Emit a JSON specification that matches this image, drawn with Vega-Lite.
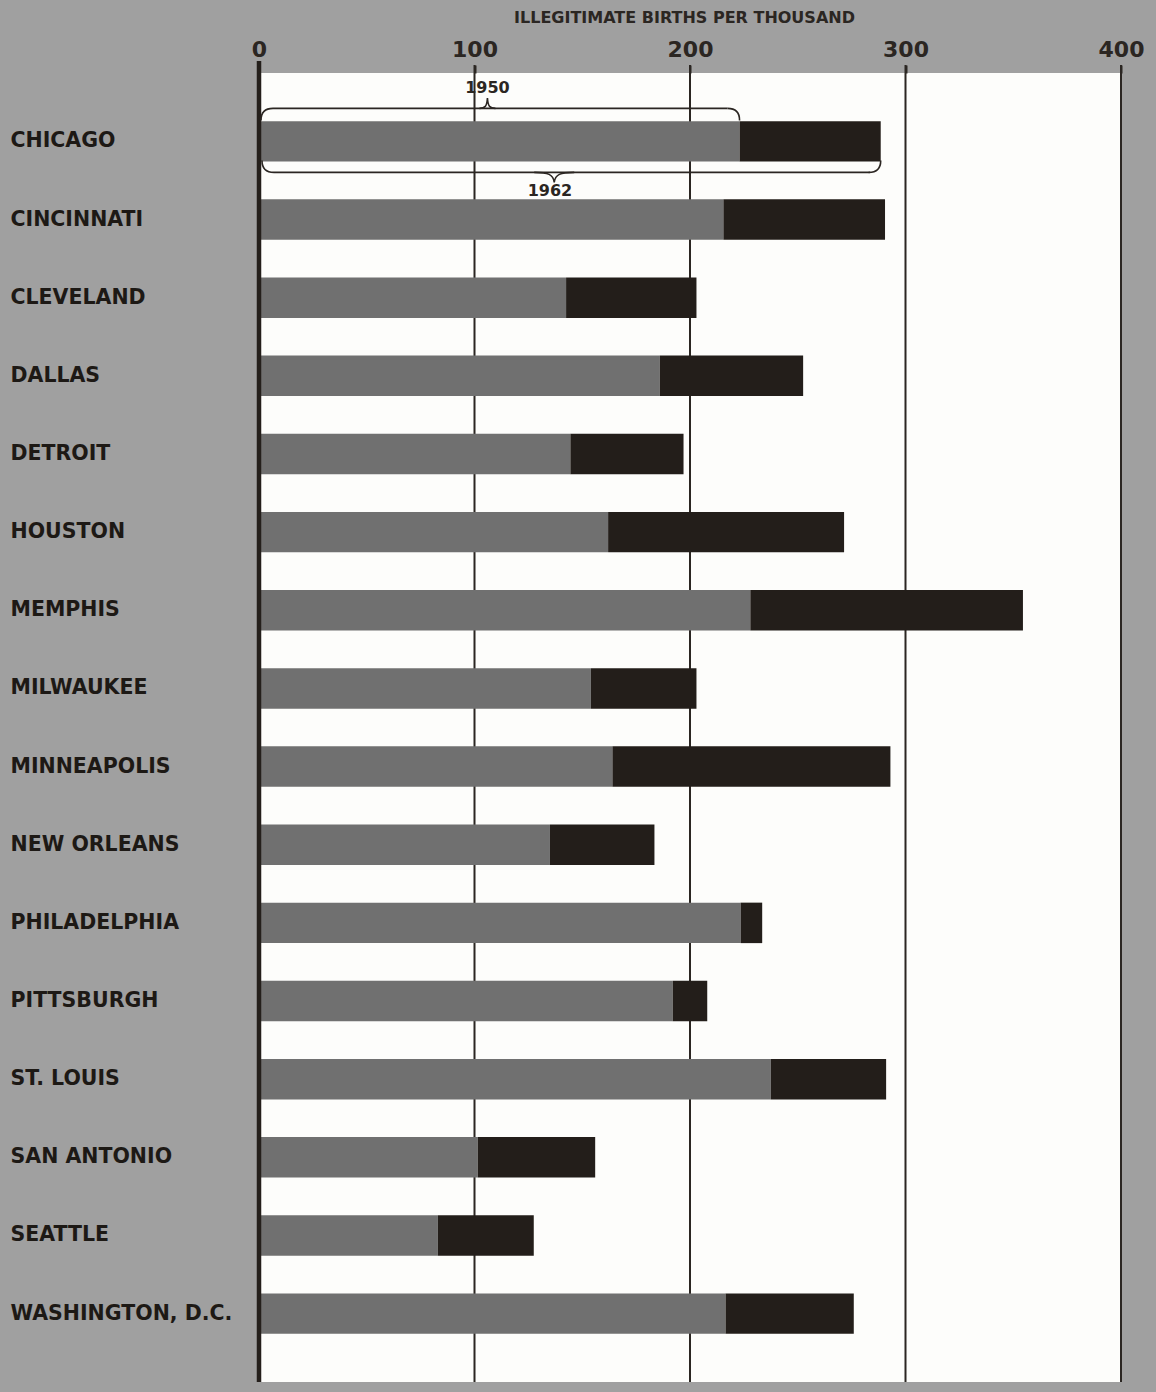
{
  "$schema": "https://vega.github.io/schema/vega-lite/v6.json",
  "autosize": {"type": "none"},
  "padding": {"left": 259, "top": 73, "right": 35, "bottom": 10},
  "width": 862,
  "height": 1309,
  "background": "#a0a0a0",
  "config": {
    "view": {"fill": "#fdfdfb", "stroke": null},
    "font": "DejaVu Sans",
    "axisX": {
      "domain": false, "grid": false, "ticks": true, "tickSize": 8, "tickWidth": 2, "tickColor": "#2b2622",
      "labelFont": "DejaVu Sans", "labelFontWeight": "bold", "labelFontSize": 22, "labelColor": "#2b2622",
      "labelBaseline": "alphabetic", "labelPadding": 9, "labelFlush": false, "labelOverlap": false,
      "titleFont": "DejaVu Sans", "titleFontWeight": "bold", "titleFontSize": 16, "titleColor": "#2b2622",
      "titleX": 425, "titleY": -51, "titleBaseline": "alphabetic", "titleAnchor": "middle", "titleAlign": "center"
    },
    "axisY": {
      "domain": false, "grid": false, "ticks": false, "tickSize": 0,
      "labelAlign": "left", "labelPadding": 249, "labelBaseline": "middle", "labelLimit": 0,
      "labelFont": "DejaVu Sans", "labelFontWeight": "bold", "labelFontSize": 20.5, "labelColor": "#1d1915"
    }
  },
  "datasets": {
    "cities": [
      {"city": "CHICAGO", "rate1950": 223, "rate1962": 288.5},
      {"city": "CINCINNATI", "rate1950": 215.5, "rate1962": 290.5},
      {"city": "CLEVELAND", "rate1950": 142.5, "rate1962": 203},
      {"city": "DALLAS", "rate1950": 186, "rate1962": 252.5},
      {"city": "DETROIT", "rate1950": 144.5, "rate1962": 197},
      {"city": "HOUSTON", "rate1950": 162, "rate1962": 271.5},
      {"city": "MEMPHIS", "rate1950": 228, "rate1962": 354.5},
      {"city": "MILWAUKEE", "rate1950": 154, "rate1962": 203},
      {"city": "MINNEAPOLIS", "rate1950": 164, "rate1962": 293},
      {"city": "NEW ORLEANS", "rate1950": 135, "rate1962": 183.5},
      {"city": "PHILADELPHIA", "rate1950": 223.5, "rate1962": 233.5},
      {"city": "PITTSBURGH", "rate1950": 192, "rate1962": 208},
      {"city": "ST. LOUIS", "rate1950": 237.5, "rate1962": 291},
      {"city": "SAN ANTONIO", "rate1950": 101.5, "rate1962": 156},
      {"city": "SEATTLE", "rate1950": 83, "rate1962": 127.5},
      {"city": "WASHINGTON, D.C.", "rate1950": 216.5, "rate1962": 276}
    ],
    "grid": [{"v": 100}, {"v": 200}, {"v": 300}, {"v": 400}],
    "zero": [{"v": 0}],
    "braces": [
      {"city": "CHICAGO", "year": "1950", "start": 0, "end": 223, "peak": 106, "labelx": 106},
      {"city": "CHICAGO", "year": "1962", "start": 0, "end": 288.5, "peak": 137, "labelx": 135}
    ]
  },
  "layer": [
    {
      "data": {"name": "grid"},
      "mark": {"type": "rule", "color": "#2b2622", "strokeWidth": 2, "yOffset": -8, "y2Offset": 10},
      "encoding": {
        "x": {
          "field": "v", "type": "quantitative", "title": "ILLEGITIMATE BIRTHS PER THOUSAND",
          "scale": {"domain": [0, 400], "nice": false, "zero": true},
          "axis": {"orient": "top", "values": [0, 100, 200, 300, 400], "format": "d"}
        }
      }
    },
    {
      "data": {"name": "cities"},
      "mark": {"type": "bar", "color": "#707070"},
      "encoding": {
        "x": {
          "field": "rate1950", "type": "quantitative", "title": "ILLEGITIMATE BIRTHS PER THOUSAND",
          "scale": {"domain": [0, 400], "nice": false, "zero": true},
          "axis": {"orient": "top", "values": [0, 100, 200, 300, 400], "format": "d"}
        },
        "y": {
          "field": "city", "type": "nominal", "sort": null, "title": null,
          "scale": {"domain": ["CHICAGO", "CINCINNATI", "CLEVELAND", "DALLAS", "DETROIT", "HOUSTON", "MEMPHIS", "MILWAUKEE", "MINNEAPOLIS", "NEW ORLEANS", "PHILADELPHIA", "PITTSBURGH", "ST. LOUIS", "SAN ANTONIO", "SEATTLE", "WASHINGTON, D.C."], "paddingInner": 0.482, "paddingOuter": 0.616},
          "axis": {"orient": "left"}
        }
      }
    },
    {
      "data": {"name": "cities"},
      "mark": {"type": "bar", "color": "#231e1a"},
      "encoding": {
        "x": {"field": "rate1950", "type": "quantitative", "title": "ILLEGITIMATE BIRTHS PER THOUSAND", "axis": {"orient": "top", "values": [0, 100, 200, 300, 400], "format": "d"}},
        "x2": {"field": "rate1962"},
        "y": {"field": "city", "type": "nominal", "sort": null, "title": null, "axis": {"orient": "left"}}
      }
    },
    {
      "data": {"name": "zero"},
      "mark": {"type": "rule", "color": "#241f1b", "strokeWidth": 4.5, "yOffset": -12, "y2Offset": 10},
      "encoding": {
        "x": {"field": "v", "type": "quantitative", "title": "ILLEGITIMATE BIRTHS PER THOUSAND", "axis": {"orient": "top", "values": [0, 100, 200, 300, 400], "format": "d"}}
      }
    },
    {
      "data": {"name": "braces"},
      "transform": [{"filter": "datum.year == '1950'"}],
      "mark": {"type": "rule", "color": "#2b2622", "strokeWidth": 1.6, "yOffset": -33, "xOffset": 14, "x2Offset": -12},
      "encoding": {
        "x": {"field": "start", "type": "quantitative", "title": "ILLEGITIMATE BIRTHS PER THOUSAND", "axis": {"orient": "top", "values": [0, 100, 200, 300, 400], "format": "d"}},
        "x2": {"field": "end"},
        "y": {"field": "city", "type": "nominal", "sort": null, "title": null, "axis": {"orient": "left"}}
      }
    },
    {
      "data": {"name": "braces"},
      "transform": [{"filter": "datum.year == '1962'"}],
      "mark": {"type": "rule", "color": "#2b2622", "strokeWidth": 1.6, "yOffset": 31, "xOffset": 15, "x2Offset": -11},
      "encoding": {
        "x": {"field": "start", "type": "quantitative", "title": "ILLEGITIMATE BIRTHS PER THOUSAND", "axis": {"orient": "top", "values": [0, 100, 200, 300, 400], "format": "d"}},
        "x2": {"field": "end"},
        "y": {"field": "city", "type": "nominal", "sort": null, "title": null, "axis": {"orient": "left"}}
      }
    },
    {
      "data": {"name": "braces"},
      "transform": [{"filter": "datum.year == '1950'"}],
      "mark": {"type": "point", "shape": "M -1 1 Q -1 -1 1 -1", "size": 144, "filled": false, "stroke": "#2b2622", "strokeWidth": 1.6, "opacity": 1, "xOffset": 8, "yOffset": -27},
      "encoding": {
        "x": {"field": "start", "type": "quantitative", "title": "ILLEGITIMATE BIRTHS PER THOUSAND", "axis": {"orient": "top", "values": [0, 100, 200, 300, 400], "format": "d"}},
        "y": {"field": "city", "type": "nominal", "sort": null, "title": null, "axis": {"orient": "left"}}
      }
    },
    {
      "data": {"name": "braces"},
      "transform": [{"filter": "datum.year == '1950'"}],
      "mark": {"type": "point", "shape": "M -1 -1 Q 1 -1 1 1", "size": 144, "filled": false, "stroke": "#2b2622", "strokeWidth": 1.6, "opacity": 1, "xOffset": -6, "yOffset": -27},
      "encoding": {
        "x": {"field": "end", "type": "quantitative", "title": "ILLEGITIMATE BIRTHS PER THOUSAND", "axis": {"orient": "top", "values": [0, 100, 200, 300, 400], "format": "d"}},
        "y": {"field": "city", "type": "nominal", "sort": null, "title": null, "axis": {"orient": "left"}}
      }
    },
    {
      "data": {"name": "braces"},
      "transform": [{"filter": "datum.year == '1962'"}],
      "mark": {"type": "point", "shape": "M -1 -1 Q -1 1 1 1", "size": 144, "filled": false, "stroke": "#2b2622", "strokeWidth": 1.6, "opacity": 1, "xOffset": 9, "yOffset": 25},
      "encoding": {
        "x": {"field": "start", "type": "quantitative", "title": "ILLEGITIMATE BIRTHS PER THOUSAND", "axis": {"orient": "top", "values": [0, 100, 200, 300, 400], "format": "d"}},
        "y": {"field": "city", "type": "nominal", "sort": null, "title": null, "axis": {"orient": "left"}}
      }
    },
    {
      "data": {"name": "braces"},
      "transform": [{"filter": "datum.year == '1962'"}],
      "mark": {"type": "point", "shape": "M -1 1 Q 1 1 1 -1", "size": 144, "filled": false, "stroke": "#2b2622", "strokeWidth": 1.6, "opacity": 1, "xOffset": -6, "yOffset": 25},
      "encoding": {
        "x": {"field": "end", "type": "quantitative", "title": "ILLEGITIMATE BIRTHS PER THOUSAND", "axis": {"orient": "top", "values": [0, 100, 200, 300, 400], "format": "d"}},
        "y": {"field": "city", "type": "nominal", "sort": null, "title": null, "axis": {"orient": "left"}}
      }
    },
    {
      "data": {"name": "braces"},
      "transform": [{"filter": "datum.year == '1950'"}],
      "mark": {"type": "point", "shape": "M -0.73 0 C -0.2 0 -0.05 -0.2 0 -0.95 C 0.05 -0.2 0.2 0 0.73 0", "size": 484, "filled": false, "stroke": "#2b2622", "strokeWidth": 1.6, "opacity": 1, "yOffset": -33},
      "encoding": {
        "x": {"field": "peak", "type": "quantitative", "title": "ILLEGITIMATE BIRTHS PER THOUSAND", "axis": {"orient": "top", "values": [0, 100, 200, 300, 400], "format": "d"}},
        "y": {"field": "city", "type": "nominal", "sort": null, "title": null, "axis": {"orient": "left"}}
      }
    },
    {
      "data": {"name": "braces"},
      "transform": [{"filter": "datum.year == '1962'"}],
      "mark": {"type": "point", "shape": "M -1 0 C -0.3 0 -0.05 0.1 0 0.5 C 0.05 0.1 0.3 0 1 0", "size": 1600, "filled": false, "stroke": "#2b2622", "strokeWidth": 1.6, "opacity": 1, "yOffset": 31},
      "encoding": {
        "x": {"field": "peak", "type": "quantitative", "title": "ILLEGITIMATE BIRTHS PER THOUSAND", "axis": {"orient": "top", "values": [0, 100, 200, 300, 400], "format": "d"}},
        "y": {"field": "city", "type": "nominal", "sort": null, "title": null, "axis": {"orient": "left"}}
      }
    },
    {
      "data": {"name": "braces"},
      "transform": [{"filter": "datum.year == '1950'"}],
      "mark": {"type": "text", "font": "DejaVu Sans", "fontWeight": "bold", "fontSize": 16, "color": "#2b2622", "baseline": "middle", "align": "center", "yOffset": -53},
      "encoding": {
        "x": {"field": "labelx", "type": "quantitative", "title": "ILLEGITIMATE BIRTHS PER THOUSAND", "axis": {"orient": "top", "values": [0, 100, 200, 300, 400], "format": "d"}},
        "y": {"field": "city", "type": "nominal", "sort": null, "title": null, "axis": {"orient": "left"}},
        "text": {"field": "year"}
      }
    },
    {
      "data": {"name": "braces"},
      "transform": [{"filter": "datum.year == '1962'"}],
      "mark": {"type": "text", "font": "DejaVu Sans", "fontWeight": "bold", "fontSize": 16, "color": "#2b2622", "baseline": "middle", "align": "center", "yOffset": 50},
      "encoding": {
        "x": {"field": "labelx", "type": "quantitative", "title": "ILLEGITIMATE BIRTHS PER THOUSAND", "axis": {"orient": "top", "values": [0, 100, 200, 300, 400], "format": "d"}},
        "y": {"field": "city", "type": "nominal", "sort": null, "title": null, "axis": {"orient": "left"}},
        "text": {"field": "year"}
      }
    }
  ]
}
